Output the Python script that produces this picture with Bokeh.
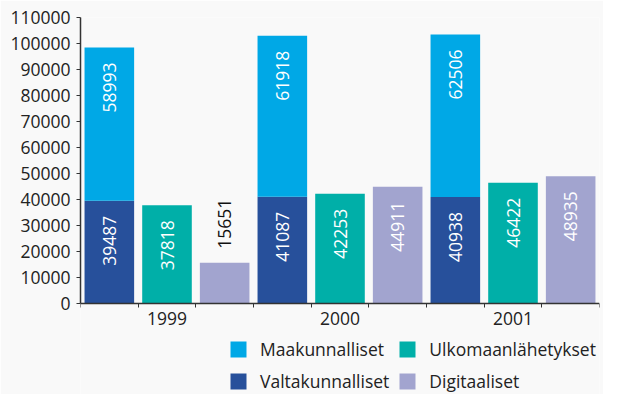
import math
from bokeh.plotting import figure
from bokeh.models import (ColumnDataSource, FixedTicker, NumeralTickFormatter,
                          Legend, LegendItem, Range1d)
from bokeh.embed import file_html
from bokeh.resources import INLINE
from bokeh.core.properties import value

# ---- data ----
years = ["1999", "2000", "2001"]
series_names = ["Maakunnalliset", "Valtakunnalliset", "Ulkomaanlähetykset", "Digitaaliset"]
valtakunnalliset = [39487, 41087, 40938]
maakunnalliset = [58993, 61918, 62506]
ulkomaan = [37818, 42253, 46422]
digitaaliset = [15651, 44911, 48935]
y_ticks = [0, 10000, 20000, 30000, 40000, 50000, 60000, 70000, 80000, 90000, 100000, 110000]

# ---- style ----
BG = "#F9F9F9"
C_MAAK = "#00A8E6"
C_VALT = "#27509B"
C_ULKO = "#00AFA8"
C_DIGI = "#A2A4CF"
FONT = "Open Sans"
FS = "17.5px"
TXT = "#222222"
AX = "#333333"

n = len(years)
x_stack = [3 * i for i in range(n)]
x_ulko = [3 * i + 1 for i in range(n)]
x_digi = [3 * i + 2 for i in range(n)]
stack_top = [v + m for v, m in zip(valtakunnalliset, maakunnalliset)]

# extra room below zero holds the category labels and the legend
p = figure(width=603, height=394, output_backend="svg", toolbar_location=None,
           x_range=Range1d(-0.5, 3 * n - 0.5), y_range=Range1d(-35000, y_ticks[-1]),
           min_border_left=80, min_border_right=4, min_border_top=17,
           min_border_bottom=0,
           background_fill_color=BG, border_fill_color=BG, outline_line_color=None)
p.grid.visible = False

W = 0.86
r_valt = p.vbar(x=x_stack, bottom=0, top=valtakunnalliset, width=W, color=C_VALT, line_color=None)
r_maak = p.vbar(x=x_stack, bottom=valtakunnalliset, top=stack_top, width=W, color=C_MAAK, line_color=None)
r_ulko = p.vbar(x=x_ulko, bottom=0, top=ulkomaan, width=W, color=C_ULKO, line_color=None)
r_digi = p.vbar(x=x_digi, bottom=0, top=digitaaliset, width=W, color=C_DIGI, line_color=None)

# ---- value labels ----
lx, ly, lt, seg_h = [], [], [], []
for i in range(n):
    lx += [x_stack[i], x_stack[i], x_ulko[i], x_digi[i]]
    ly += [valtakunnalliset[i], stack_top[i], ulkomaan[i], digitaaliset[i]]
    lt += [str(valtakunnalliset[i]), str(maakunnalliset[i]), str(ulkomaan[i]), str(digitaaliset[i])]
    seg_h += [valtakunnalliset[i], maakunnalliset[i], ulkomaan[i], digitaaliset[i]]
inside = [h >= 25000 for h in seg_h]

src_in = ColumnDataSource(dict(x=[a for a, k in zip(lx, inside) if k],
                               y=[b for b, k in zip(ly, inside) if k],
                               t=[c for c, k in zip(lt, inside) if k]))
src_out = ColumnDataSource(dict(x=[a for a, k in zip(lx, inside) if not k],
                                y=[b for b, k in zip(ly, inside) if not k],
                                t=[c for c, k in zip(lt, inside) if not k]))
p.text(x="x", y="y", text="t", source=src_in, angle=math.pi / 2,
       text_align="right", text_baseline="middle", y_offset=15,
       text_color="white", text_font=value(FONT), text_font_size=FS)
p.text(x="x", y="y", text="t", source=src_out, angle=math.pi / 2,
       text_align="left", text_baseline="middle", y_offset=-14,
       text_color="#111111", text_font=value(FONT), text_font_size=FS)

# ---- axes ----
xa = p.xaxis[0]
xa.fixed_location = 0
xa.ticker = FixedTicker(ticks=x_ulko, minor_ticks=[k - 0.5 for k in range(3 * n + 1)])
xa.major_label_overrides = {x_ulko[i]: years[i] for i in range(n)}
xa.major_tick_out = 0
xa.major_tick_in = 0
xa.minor_tick_out = 4
xa.minor_tick_in = 0
xa.minor_tick_line_color = AX
xa.axis_line_color = AX
xa.axis_line_width = 1.5
xa.major_label_standoff = 4
xa.major_label_text_font = FONT
xa.major_label_text_font_size = FS
xa.major_label_text_color = TXT

ya = p.yaxis[0]
ya.bounds = (0, y_ticks[-1])
ya.ticker = FixedTicker(ticks=y_ticks)
ya.formatter = NumeralTickFormatter(format="0")
ya.major_tick_out = 4
ya.major_tick_in = 0
ya.minor_tick_line_color = None
ya.major_tick_line_color = AX
ya.axis_line_color = AX
ya.axis_line_width = 1.5
ya.major_label_standoff = 6
ya.major_label_text_font = FONT
ya.major_label_text_font_size = FS
ya.major_label_text_color = TXT

# ---- legend ----
legend = Legend(items=[LegendItem(label=series_names[0], renderers=[r_maak]),
                       LegendItem(label=series_names[1], renderers=[r_valt]),
                       LegendItem(label=series_names[2], renderers=[r_ulko]),
                       LegendItem(label=series_names[3], renderers=[r_digi])],
                orientation="vertical", ncols=2, location=(148, 1),
                glyph_width=20, glyph_height=20, label_standoff=12, spacing=8,
                label_height=22, padding=0, margin=0,
                label_text_font=FONT, label_text_font_size=FS, label_text_color=TXT,
                border_line_color=None, background_fill_alpha=0)
p.add_layout(legend)

open("out.html", "w").write(file_html(p, INLINE))
